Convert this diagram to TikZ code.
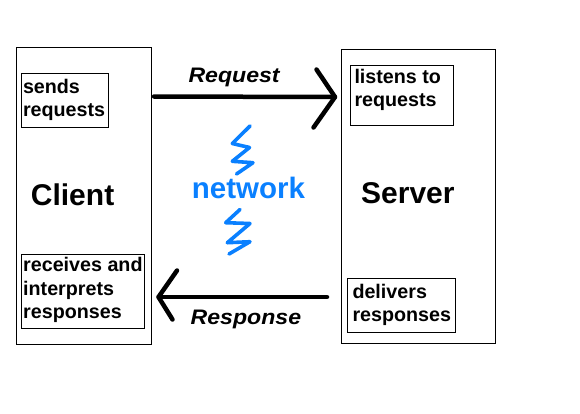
\documentclass[tikz,border=0pt]{standalone}
\usepackage{fontspec}
\setmainfont{Liberation Sans}
\definecolor{netblue}{RGB}{10,128,255}
\tikzset{
  frame/.style={draw=black, line width=0.9pt, inner sep=0pt, anchor=north west},
  smalltxt/.style={inner sep=0pt, anchor=north west, align=left, font=\fontsize{19.7}{23.3}\selectfont\bfseries},
  bigtxt/.style={inner sep=0pt, anchor=base west, font=\fontsize{30}{34}\selectfont\bfseries},
  arrtxt/.style={inner sep=0pt, anchor=base west, font=\fontsize{21}{24}\selectfont\bfseries\itshape, xscale=1.1, transform shape},
  conn/.style={line width=4.5pt, line cap=round, line join=round},
  zig/.style={draw=netblue, line width=3.6pt, line cap=round, line join=round}
}
\begin{document}
\begin{tikzpicture}[x=1pt, y=-1pt]
\useasboundingbox (0,0) rectangle (580,413);
% main boxes
\node[frame, minimum width=135pt, minimum height=297pt] (client) at (15.5,47.3) {};
\node[frame, minimum width=154pt, minimum height=294pt] (server) at (341.3,49.3) {};
% inner boxes
\node[frame, minimum width=87pt, minimum height=54pt] (sendsbox) at (21.3,73.3) {};
\node[frame, minimum width=123.6pt, minimum height=74pt] (recvbox) at (20.7,254.3) {};
\node[frame, minimum width=103.3pt, minimum height=60pt] (listbox) at (350,65.3) {};
\node[frame, minimum width=108pt, minimum height=54pt] (delbox) at (347.3,278.3) {};
% inner texts
\node[smalltxt] (sendstxt) at (22.8,78.6) {sends\\requests};
\node[smalltxt] (recvtxt) at (23,257.4) {receives and\\interprets\\responses};
\node[smalltxt] (listtxt) at (354.3,68.6) {listens to\\requests};
\node[smalltxt] (deltxt) at (352.3,283.6) {delivers\\responses};
% big labels
\node[bigtxt] (clienttxt) at (30.7,205) {Client};
\node[bigtxt] (servertxt) at (361,203.3) {Server};
\node[bigtxt, text=netblue, font=\fontsize{29.5}{34}\selectfont\bfseries] (nettxt) at (191.7,198.3) {network};
% arrow labels
\node[arrtxt] (reqtxt) at (188.3,82) {Request};
\node[arrtxt] (resptxt) at (190.5,324) {Response};
% request arrow
\coordinate (reqS) at (154,96.5);
\coordinate (reqT) at (335,97);
\coordinate (reqA) at (316.5,69.5);
\coordinate (reqB) at (313.5,127.5);
\draw[conn] (reqS) -- (reqT);
\draw[conn] (reqA) -- (reqT) -- (reqB);
% response arrow
\coordinate (resS) at (327,297);
\coordinate (resT) at (158.5,297);
\coordinate (resA) at (177,270.5);
\coordinate (resB) at (172.5,319.5);
\draw[conn] (resS) -- (resT);
\draw[conn] (resA) -- (resT) -- (resB);
% lightning zigzags
\draw[zig] (250,126) -- (232.3,143.5) -- (249.5,147.5) -- (232.3,161.3) -- (253,162.7) -- (236.5,174);
\draw[zig] (240,209.5) -- (225.7,222.7) -- (250,223.5) -- (227.3,242.7) -- (250,241.7) -- (229,254);
\end{tikzpicture}
\end{document}
